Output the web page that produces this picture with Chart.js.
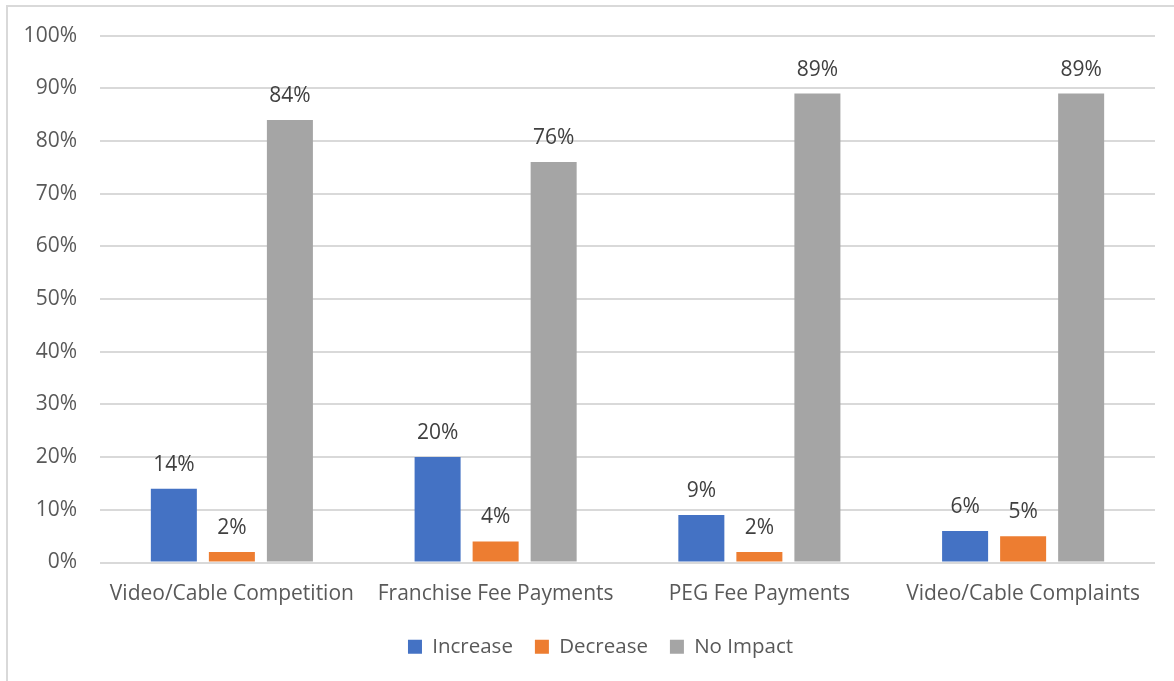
<!DOCTYPE html>
<html>
<head>
<meta charset="utf-8">
<script src="https://cdn.jsdelivr.net/npm/chart.js@4"></script>
<style>
  html, body { margin: 0; padding: 0; background: #fff; }
  #wrap { position: relative; width: 1174px; height: 681px; overflow: hidden; }
  #frame { position: absolute; left: 6px; top: 5px; width: 1180px; height: 700px;
           border: 2px solid #d9d9d9; box-sizing: border-box; }
  #impactChart { position: absolute; left: 0; top: 0; }
</style>
</head>
<body>
<div id="wrap">
  <div id="frame"></div>
  <canvas id="impactChart" width="1174" height="681"></canvas>
</div>
<script>
const categories = ["Video/Cable Competition", "Franchise Fee Payments", "PEG Fee Payments", "Video/Cable Complaints"];
const increase = [14, 20, 9, 6];
const decrease = [2, 4, 2, 5];
const noImpact = [84, 76, 89, 89];
const yTicks = [0, 10, 20, 30, 40, 50, 60, 70, 80, 90, 100];

const FONT = "'Open Sans', sans-serif";

// prints the value above each bar
const barLabels = {
  id: "barLabels",
  afterDatasetsDraw(chart) {
    const ctx = chart.ctx;
    ctx.save();
    ctx.font = "21px " + FONT;
    ctx.fillStyle = "#404040";
    ctx.textAlign = "center";
    ctx.textBaseline = "middle";
    chart.data.datasets.forEach((ds, i) => {
      chart.getDatasetMeta(i).data.forEach((bar, j) => {
        ctx.fillText(ds.data[j] + "%", bar.x, bar.y - 24);
      });
    });
    ctx.restore();
  }
};

// nudge the legend row a bit to the right, under the plot
const legendShift = {
  id: "legendShift",
  afterLayout(chart) {
    if (chart.legend) chart.legend.left = 46;
  }
};

new Chart("impactChart", {
  type: "bar",
  data: {
    labels: categories,
    datasets: [
      { label: "Increase", data: increase, backgroundColor: "#4472C4" },
      { label: "Decrease", data: decrease, backgroundColor: "#ED7D31" },
      { label: "No Impact", data: noImpact, backgroundColor: "#A5A5A5" }
    ]
  },
  options: {
    responsive: false,
    animation: false,
    layout: { padding: { left: 0, top: 35, right: 19, bottom: 14 } },
    datasets: { bar: { categoryPercentage: 0.66, barPercentage: 0.793 } },
    scales: {
      x: {
        grid: { display: false },
        border: { display: false },
        ticks: { color: "#595959", font: { family: FONT, size: 21 }, padding: 11 },
        afterFit: s => { s.height = 52; }
      },
      y: {
        min: 0,
        max: 100,
        afterBuildTicks: s => { s.ticks = yTicks.map(v => ({ value: v })); },
        grid: { color: "#d9d9d9", lineWidth: 2, drawTicks: false },
        border: { display: false },
        ticks: {
          color: "#595959",
          font: { family: FONT, size: 21 },
          padding: 23,
          callback: v => v + "%"
        },
        afterFit: s => { s.width = 100; }
      }
    },
    plugins: {
      legend: {
        position: "bottom",
        labels: {
          color: "#595959",
          font: { family: FONT, size: 20.5 },
          boxWidth: 14,
          boxHeight: 14,
          padding: 22
        }
      },
      tooltip: { enabled: false }
    }
  },
  plugins: [barLabels, legendShift]
});
</script>
</body>
</html>
